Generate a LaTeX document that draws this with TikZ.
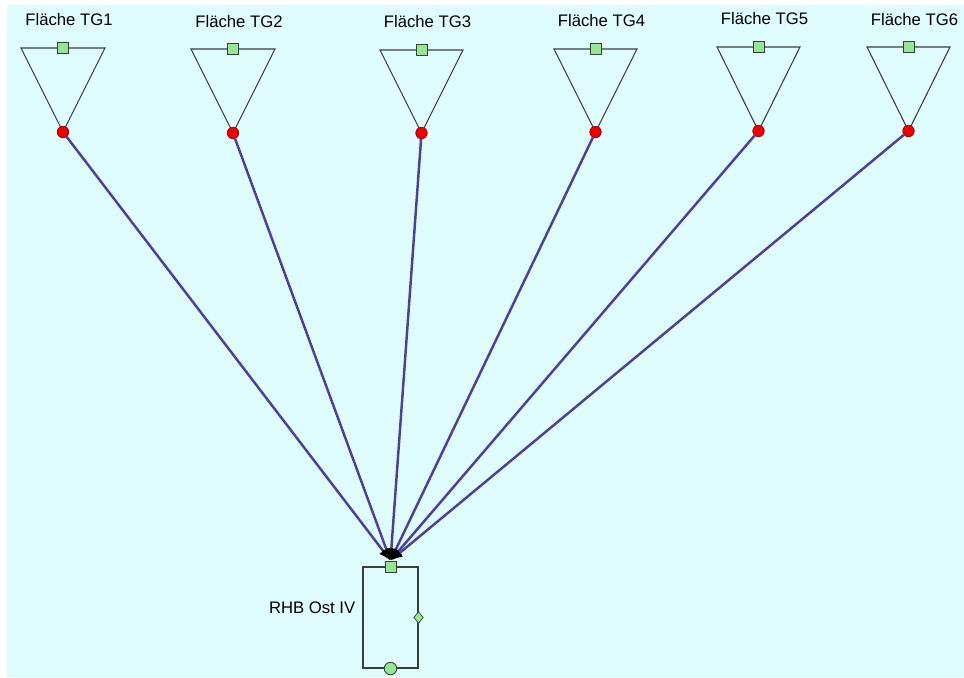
\documentclass[tikz,border=0pt]{standalone}
\usepackage{fontspec}
\setmainfont{Liberation Sans}
\usetikzlibrary{arrows.meta,shapes.geometric}
\definecolor{BG}{HTML}{DFFCFC}
\definecolor{LINK}{HTML}{4E3F9E}
\definecolor{PORT}{HTML}{94E894}
\definecolor{EDGE}{HTML}{3C3C3C}
\definecolor{OUTP}{HTML}{F00000}

\begin{document}
\begin{tikzpicture}[
  x=0.02cm, y=-0.02cm,
  font=\fontsize{9.5}{11.4}\selectfont,
  basin/.style={draw=EDGE, line width=0.6pt},
  inport/.style={rectangle, fill=PORT, draw=EDGE, line width=0.5pt, minimum size=0.22cm, inner sep=0pt},
  outport/.style={circle, fill=OUTP, draw=red!60!black, line width=0.4pt, minimum size=0.23cm, inner sep=0pt},
  tankbox/.style={rectangle, draw=EDGE, line width=0.6pt, minimum width=1.1cm, minimum height=2.02cm, inner sep=0pt},
  sideport/.style={diamond, fill=PORT, draw=EDGE, line width=0.4pt, minimum width=0.19cm, minimum height=0.24cm, inner sep=0pt},
  botport/.style={circle, fill=PORT, draw=EDGE, line width=0.5pt, minimum size=0.25cm, inner sep=0pt},
  link/.style={draw=LINK, line width=1.4pt, -{Latex[length=0.24cm, width=0.2cm, black]}},
  tglabel/.style={text=black},
]
\useasboundingbox (0,0) rectangle (964,677);
\fill[white] (0,0) rectangle (964,677);
\fill[BG] (7,5) rectangle (964,677);

% retention basin
\node[tankbox] (tank) at (390.5,617.5) {};
\node[inport] (tankin) at (tank.north) {};
\node[sideport] (tankside) at (tank.east) {};
\node[botport] (tankout) at (tank.south) {};
\node[tglabel, anchor=east] (tanklbl) at ([xshift=-0.02cm, yshift=0.2cm]tank.west) {RHB Ost IV};

% catchment areas: number / left x / right x / top y / apex y / label y
\foreach \n/\xl/\xr/\yt/\ya/\ly in {1/21/105/48/132/20, 2/191/275/49/133/22, 3/380/463/50/133/22,
                                   4/554/637/49/132/21, 5/717/800/47/131/19, 6/867/950/47/131/20} {
  \pgfmathsetmacro{\xm}{(\xl+\xr)/2}
  \draw[basin] (\xl,\yt) -- (\xr,\yt) -- (\xm,\ya) -- cycle;
  \node[inport] (in\n) at (\xm,\yt) {};
  \node[outport] (out\n) at (\xm,\ya) {};
  \node[tglabel] (lbl\n) at (\xm+6,\ly) {Fläche TG\n};
}

% runoff links
\foreach \n in {1,...,6} { \draw[link] (out\n) -- (tankin.north); }

\end{tikzpicture}
\end{document}
